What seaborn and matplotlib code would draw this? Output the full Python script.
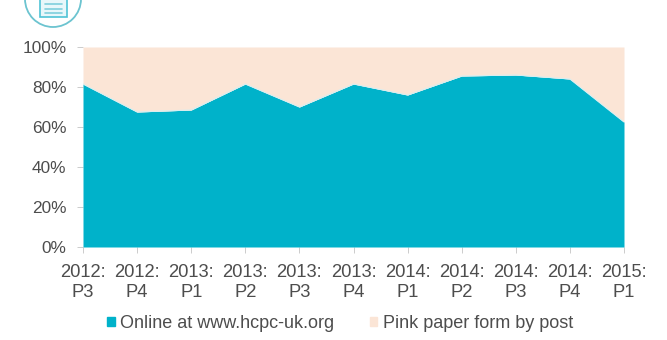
import matplotlib
matplotlib.use("Agg")
import matplotlib.pyplot as plt
from matplotlib.patches import Circle, Rectangle, Patch
from matplotlib.lines import Line2D
import seaborn as sns
import pandas as pd

periods = ["2012:\nP3", "2012:\nP4", "2013:\nP1", "2013:\nP2", "2013:\nP3", "2013:\nP4",
           "2014:\nP1", "2014:\nP2", "2014:\nP3", "2014:\nP4", "2015:\nP1"]
online = [81.5, 67.5, 68.5, 81.5, 70, 81.5, 76, 85.5, 86, 84, 62.5]
paper = [18.5, 32.5, 31.5, 18.5, 30, 18.5, 24, 14.5, 14, 16, 37.5]
value_ticks = [0, 20, 40, 60, 80, 100]

TEAL = "#00b2ca"
CREAM = "#fbe5d6"
TEXT = "#4d4d4d"

sns.set_theme(style="white")
plt.rcParams["font.family"] = ["Liberation Sans", "DejaVu Sans"]

W, H = 667, 340
fig = plt.figure(figsize=(W / 100, H / 100), dpi=100, facecolor="white")
ax = fig.add_axes([83 / W, 1 - 247 / H, (624 - 83) / W, 200 / H])

frame = pd.DataFrame({"period": range(len(periods)), "online": online})
ax.stackplot(frame["period"], online, paper, colors=[TEAL, CREAM], linewidth=0)
sns.lineplot(data=frame, x="period", y="online", color="#d8eef0", linewidth=0.8, ax=ax)

ax.set_xlim(0, len(periods) - 1)
ax.set_ylim(0, 100)
ax.set_xlabel("")
ax.set_ylabel("")
ax.set_xticks(range(len(periods)), periods)
ax.set_yticks(value_ticks, [f"{v}%" for v in value_ticks])
ax.tick_params(axis="x", length=4, width=0.7, color="#cccccc", labelcolor=TEXT,
               labelsize=13.2, pad=8.4, bottom=True)
ax.tick_params(axis="y", length=4, width=0.7, color="#cccccc", labelcolor=TEXT,
               labelsize=12.4, pad=8, left=True)
for lab in ax.get_xticklabels():
    lab.set_linespacing(1.22)
sns.despine(ax=ax, top=True, right=True, left=True, bottom=True)

handles = [Patch(color=TEAL), Patch(color=CREAM)]
fig.legend(handles, ["Online at www.hcpc-uk.org", "Pink paper form by post"],
           loc="center", bbox_to_anchor=(340 / W, 1 - 323.5 / H), ncol=2, frameon=False,
           fontsize=13, labelcolor=TEXT, handlelength=0.42, handleheight=0.42,
           handletextpad=0.3, columnspacing=1.95)

# document badge cropped by the top edge
overlay = fig.add_axes([0, 0, 1, 1], facecolor="none")
overlay.set_xlim(0, W)
overlay.set_ylim(H, 0)
overlay.axis("off")
overlay.add_patch(Circle((53, -1), 28, fill=False, edgecolor="#6cc4d0", linewidth=1.3))
overlay.add_patch(Rectangle((40, -4), 27, 21, facecolor="#e8f7fa", edgecolor="#4fc3d6", linewidth=1.2))
for y in (4, 9, 13):
    overlay.add_line(Line2D([45, 62], [y, y], color="#7fcfdc", linewidth=1.2))

fig.savefig("out.png", dpi=100)
